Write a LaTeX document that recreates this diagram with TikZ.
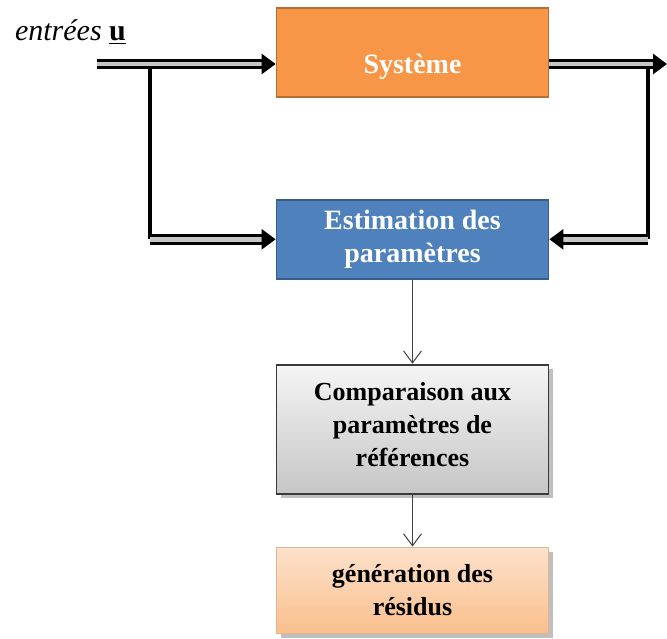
\documentclass[tikz,border=0pt]{standalone}
\usepackage{fontspec}
\setmainfont{Liberation Serif}
\usepackage{tikz}
\usetikzlibrary{arrows.meta, positioning, shadows}
\definecolor{sysfill}{HTML}{F79646}
\definecolor{sysdraw}{HTML}{B66D31}
\definecolor{estfill}{HTML}{4F81BD}
\definecolor{estdraw}{HTML}{385D8A}
\definecolor{compdraw}{HTML}{3A3A3A}
\definecolor{restop}{HTML}{FDE1CB}
\definecolor{resbot}{HTML}{FABF8C}
\definecolor{resdraw}{HTML}{E3B58C}

\begin{document}
\begin{tikzpicture}[
  x=0.5pt, y=-0.5pt,
  box/.style={draw, line width=0.9pt, minimum width=136pt, align=center,
              font=\bfseries\fontsize{13}{16.5}\selectfont},
  big/.style={font=\bfseries\fontsize{14}{16.5}\selectfont},
  dbl/.style={draw=black, line width=1.5pt, double=gray!45, double distance=2.2pt,
              -{Triangle[length=7pt, width=10pt]}},
  vline/.style={line width=1.7pt},
  thin/.style={-{Straight Barb[length=6pt, width=9pt]}, line width=0.5pt, draw=black!75},
  lbl/.style={font=\itshape\fontsize{15}{17}\selectfont}
]
  \useasboundingbox (0,0) rectangle (667,638);

  \node[box, big, fill=sysfill, draw=sysdraw, text=white, minimum height=44.5pt,
        text height=21pt, text depth=0pt] (sys) at (412.5,52.5) {Système};
  \node[box, big, fill=estfill, draw=estdraw, text=white, minimum height=39.5pt,
        below=50.5pt of sys] (est) {Estimation des\\paramètres};
  \node[box, top color=gray!8, bottom color=gray!45, draw=compdraw,
        minimum height=64.5pt, drop shadow, below=42pt of est] (comp)
        {Comparaison aux\\paramètres de\\références\\[-11.5pt]};
  \node[box, top color=restop, bottom color=resbot, draw=resdraw,
        minimum height=43pt, drop shadow, below=26pt of comp] (res)
        {génération des\\résidus};

  \node[lbl, anchor=base west] (entree) at (8,40) {entrées $\underline{\mathbf{u}}$};

  % entrees and sorties
  \coordinate (in) at (97,64);
  \coordinate (out) at (667,64);
  \coordinate (jl) at (150,64);
  \coordinate (jr) at (648,64);

  \draw[vline] (jl) -- (jl |- est.west);
  \draw[vline] (jr) -- (jr |- est.east);
  \draw[dbl] (in) -- (in -| sys.west);
  \draw[dbl] (in -| sys.east) -- (out);
  \draw[dbl] (jl |- est.west) -- (est.west);
  \draw[dbl] (jr |- est.east) -- (est.east);

  \draw[thin] (est) -- (comp);
  \draw[thin] (comp) -- (res);
\end{tikzpicture}
\end{document}
